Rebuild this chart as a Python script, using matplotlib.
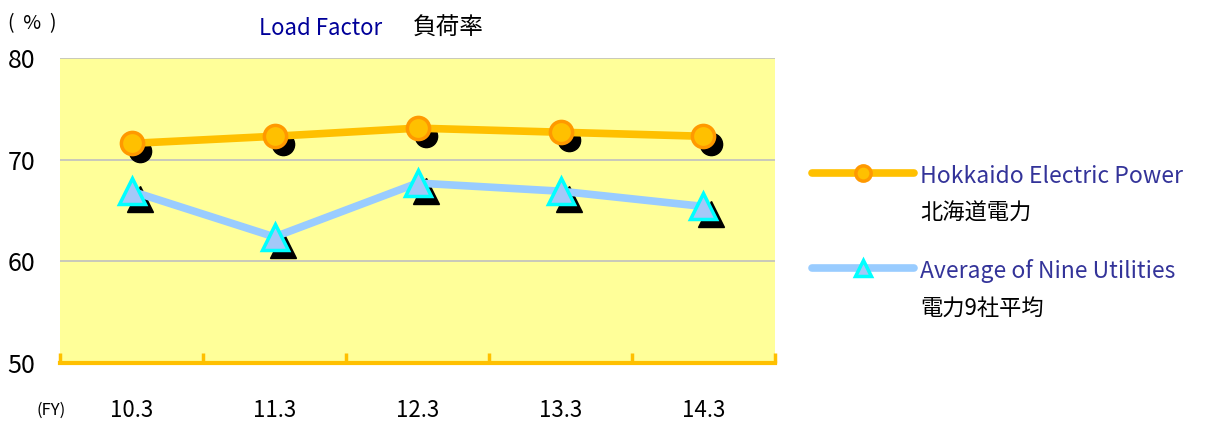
import matplotlib
matplotlib.use('Agg')
import matplotlib.pyplot as plt
import matplotlib.transforms as mtransforms
from matplotlib.lines import Line2D
import numpy as np

plt.rcParams['font.family'] = ['Noto Sans CJK JP', 'DejaVu Sans']

# data
years = ['10.3', '11.3', '12.3', '13.3', '14.3']
hokkaido = [71.6, 72.3, 73.1, 72.7, 72.3]
nine_avg = [66.9, 62.4, 67.7, 66.9, 65.4]
y_ticks = [50, 60, 70, 80]

HOK_LINE = '#FFC000'
HOK_EDGE = '#FF9900'
AVG_LINE = '#99CCFF'
AVG_EDGE = '#00FFFF'

fig = plt.figure(figsize=(12.06, 4.23), dpi=100)
ax = fig.add_axes([0.0498, 0.1418, 0.5928, 0.7211])
ax.set_facecolor('#FFFF99')

x = np.arange(len(years))

# black shadow markers, shifted a few pixels right/down
shadow = mtransforms.offset_copy(ax.transData, fig=fig, x=8, y=-8, units='dots')
ax.plot(x, hokkaido, linestyle='none', marker='o', markersize=16,
        color='black', transform=shadow, zorder=3)
ax.plot(x, nine_avg, linestyle='none', marker='^', markersize=19,
        color='black', transform=shadow, zorder=3)

ax.plot(x, hokkaido, color=HOK_LINE, linewidth=5.5, marker='o', markersize=16,
        markerfacecolor=HOK_LINE, markeredgecolor=HOK_EDGE, markeredgewidth=2.5,
        zorder=4, solid_capstyle='butt')
ax.plot(x, nine_avg, color=AVG_LINE, linewidth=5.5, marker='^', markersize=19,
        markerfacecolor='#A4C8F8', markeredgecolor=AVG_EDGE, markeredgewidth=2.5,
        zorder=4, solid_capstyle='butt')

ax.set_xlim(-0.5, len(years) - 0.5)
ax.set_ylim(50, 80)
ax.set_yticks(y_ticks)
ax.set_yticklabels([str(v) for v in y_ticks], fontsize=18)
ax.tick_params(axis='y', length=0, pad=18)
for v in y_ticks[1:]:
    ax.axhline(v, color='#C0C0C0', linewidth=1.2, zorder=1)

# category boundaries as ticks, labels in the middle
ax.set_xticks(np.arange(len(years) + 1) - 0.5)
ax.set_xticklabels([])
ax.tick_params(axis='x', which='major', direction='in', length=7, width=2.5,
               color=HOK_LINE)
ax.set_xticks(x, minor=True)
ax.set_xticklabels(years, minor=True, fontsize=16)
ax.tick_params(axis='x', which='minor', length=0, pad=26)

for side in ['top', 'left', 'right']:
    ax.spines[side].set_visible(False)
ax.spines['bottom'].set_color(HOK_LINE)
ax.spines['bottom'].set_linewidth(3)

# titles and unit labels
fig.text(0.215, 0.932, 'Load Factor', color='#000099', fontsize=16,
         ha='left', va='center')
fig.text(0.342, 0.932, '負荷率', color='black', fontsize=17,
         ha='left', va='center')
fig.text(0.007, 0.945, '(  %  )', color='black', fontsize=14, ha='left', va='center')
fig.text(0.03, 0.03, '(FY)', color='black', fontsize=12, ha='left', va='center')

# legend drawn by hand
leg_x0, leg_x1 = 812 / 1206, 914 / 1206
rows = [
    (1 - 173 / 423, HOK_LINE, 'o', HOK_LINE, HOK_EDGE, 11,
     'Hokkaido Electric Power', '北海道電力'),
    (1 - 268 / 423, AVG_LINE, '^', '#A4C8F8', AVG_EDGE, 12,
     'Average of Nine Utilities', '電力9社平均'),
]
for yy, lc, mk, mfc, mec, ms, en, jp in rows:
    fig.add_artist(Line2D([leg_x0, leg_x1], [yy, yy], color=lc, linewidth=5.5,
                          solid_capstyle='round', transform=fig.transFigure))
    fig.add_artist(Line2D([(leg_x0 + leg_x1) / 2], [yy], marker=mk, markersize=ms,
                          markerfacecolor=mfc, markeredgecolor=mec,
                          markeredgewidth=2.5, transform=fig.transFigure))
    fig.text(920 / 1206, yy - 3 / 423, en, color='#333399', fontsize=16.5,
             ha='left', va='center')
    fig.text(920 / 1206, yy - 40 / 423, jp, color='black', fontsize=16,
             ha='left', va='center')

fig.savefig('out.png', dpi=100)
